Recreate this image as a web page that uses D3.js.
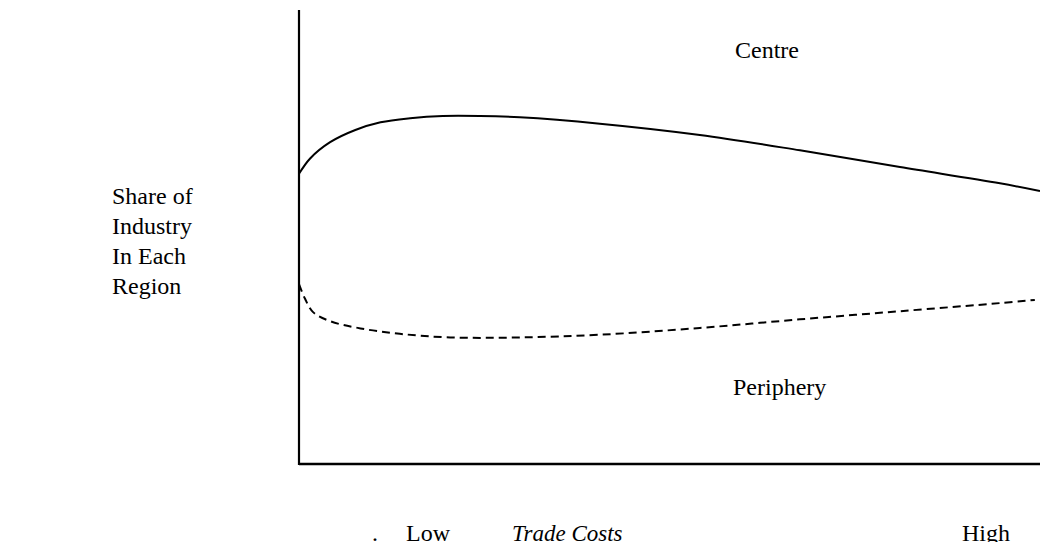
<!DOCTYPE html>
<html>
<head>
<meta charset="utf-8">
<script src="https://cdn.jsdelivr.net/npm/d3@7"></script>
<style>
  html, body { margin: 0; padding: 0; background: #fff; }
  svg { display: block; }
  text { font-family: "Liberation Serif", "Times New Roman", serif; fill: #000; }
</style>
</head>
<body>
<svg id="chart" width="1040" height="542"></svg>
<script>
// Trade-cost index (0 = low, 100 = high) and share of industry (0..100 on the vertical axis)
const tradeCost = [0, 1.5, 4.2, 7.6, 11, 15, 19.4, 24.4, 29.8, 40.6, 54.1, 67.6, 81.1, 94.6, 100];
const centreShare = [64.2, 67.6, 71.2, 73.9, 75.6, 76.5, 77.0, 77.0, 76.7, 75.3, 72.8, 69.4, 65.7, 62.1, 60.4];
const periphCost = [0, 0.8, 1.9, 4.2, 8.3, 13.6, 20.4, 29.8, 40.6, 54.1, 67.6, 81.1, 94.6, 99.3];
const periphShare = [39.8, 36.6, 33.6, 31.6, 30.0, 28.8, 28.0, 28.0, 28.6, 30.1, 32.0, 33.8, 35.6, 36.3];
const seriesLabels = ["Centre", "Periphery"];
const yAxisLabel = ["Share of", "Industry", "In Each", "Region"];
const xAxisLabels = ["Low", "Trade Costs", "High"];

const svg = d3.select("#chart");
const x = d3.scaleLinear().domain([0, 100]).range([299, 1040]);
const y = d3.scaleLinear().domain([0, 100]).range([464, 12]);

// axes (plain lines, no ticks)
svg.append("line").attr("x1", x(0)).attr("x2", x(0)).attr("y1", 10).attr("y2", y(0) + 1)
  .attr("stroke", "#000").attr("stroke-width", 2.2);
svg.append("line").attr("x1", x(0)).attr("x2", x(100)).attr("y1", y(0)).attr("y2", y(0))
  .attr("stroke", "#000").attr("stroke-width", 2.6);

const line = d3.line().curve(d3.curveCatmullRom.alpha(0.5)).x(d => x(d[0])).y(d => y(d[1]));

svg.append("path")
  .datum(d3.zip(tradeCost, centreShare))
  .attr("d", line).attr("fill", "none").attr("stroke", "#000").attr("stroke-width", 2);

svg.append("path")
  .datum(d3.zip(periphCost, periphShare))
  .attr("d", line).attr("fill", "none").attr("stroke", "#000").attr("stroke-width", 2)
  .attr("stroke-dasharray", "8,5");

// series labels
svg.append("text").attr("x", 735).attr("y", 58).attr("font-size", 24).text(seriesLabels[0]);
svg.append("text").attr("x", 733).attr("y", 395).attr("font-size", 24).text(seriesLabels[1]);

// y label
svg.append("g").selectAll("text").data(yAxisLabel).join("text")
  .attr("x", 112).attr("y", (d, i) => 204 + i * 30).attr("font-size", 24).text(d => d);

// x labels
svg.append("text").attr("x", 372).attr("y", 541).attr("font-size", 24).text(".");
svg.append("text").attr("x", 406).attr("y", 541).attr("font-size", 24).text(xAxisLabels[0]);
svg.append("text").attr("x", 512).attr("y", 541).attr("font-size", 23).attr("font-style", "italic").text(xAxisLabels[1]);
svg.append("text").attr("x", 962).attr("y", 541).attr("font-size", 24).text(xAxisLabels[2]);
</script>
</body>
</html>
